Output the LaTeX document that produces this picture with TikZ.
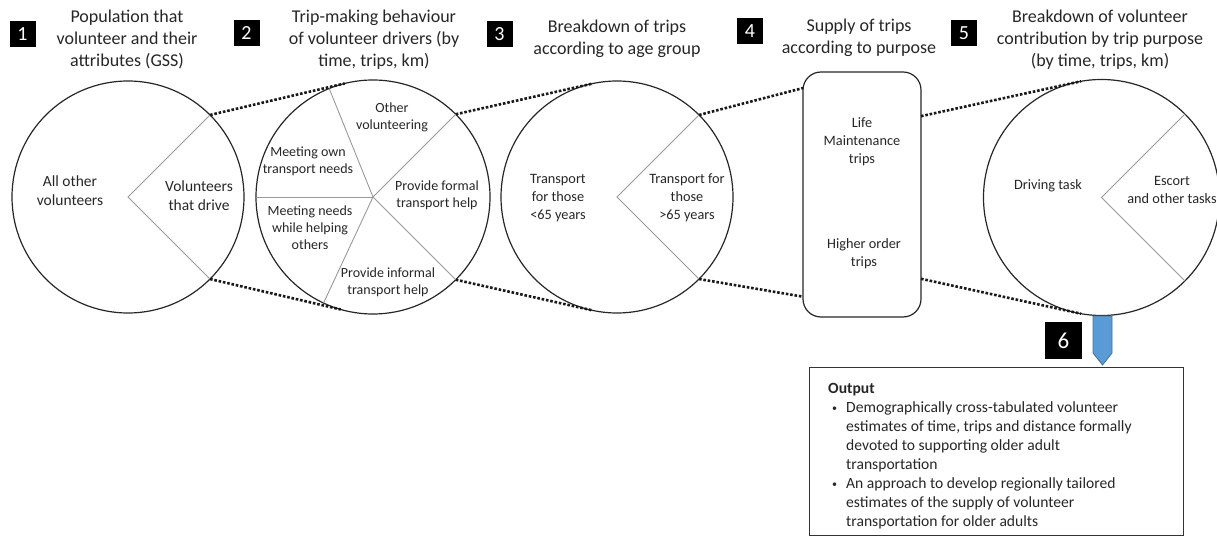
\documentclass[tikz,border=0pt]{standalone}
\usepackage{fontspec}
\setmainfont{Carlito}
\usetikzlibrary{calc}

\definecolor{arrowblue}{HTML}{5B9BD5}
\definecolor{arrowedge}{HTML}{41719C}
\newcommand{\outbullet}{\makebox[18pt][l]{\hspace{4pt}\raisebox{1pt}{\fontsize{10}{10}\selectfont\textbullet}}}

\begin{document}
\begin{tikzpicture}[x=1pt,y=-1pt,
  ring/.style={circle, draw=black!85, line width=1.2pt, inner sep=0pt, outer sep=0pt, minimum size=232pt},
  supbox/.style={draw=black!85, line width=1.2pt, rounded corners=18pt, outer sep=0pt, minimum width=118pt, minimum height=245pt},
  cut/.style={draw=black!40, line width=0.9pt},
  zoomline/.style={draw=black!90, line width=2.6pt, dash pattern=on 2.6pt off 1.8pt},
  numbox/.style={fill=black, text=white, inner sep=0pt, minimum size=26pt, font=\fontsize{20}{24}\selectfont},
  title/.style={align=center, text=black!85, font=\fontsize{18}{22}\selectfont},
  biglbl/.style={align=center, text=black!85, font=\fontsize{15.5}{19}\selectfont},
  lbl/.style={align=center, text=black!85, font=\fontsize{14.3}{18}\selectfont},
  smlbl/.style={align=center, text=black!85, font=\fontsize{14}{17}\selectfont},
  outbox/.style={draw=black!80, line width=1.2pt, minimum width=374pt, minimum height=168pt},
  outtext/.style={align=left, inner sep=0pt, text=black!85, font=\fontsize{15.6}{19}\selectfont}]
  \useasboundingbox (0,0) rectangle (1217,537);

  % titles and their numbers
  \node[title] (t1) at (127,40) {Population that\\volunteer and their\\attributes (GSS)};
  \node[title] (t2) at (374,40) {Trip-making behaviour\\of volunteer drivers (by\\time, trips, km)};
  \node[title] (t3) at (617,39) {Breakdown of trips\\according to age group};
  \node[title] (t4) at (859,38) {Supply of trips\\according to purpose};
  \node[title] (t5) at (1100,40) {Breakdown of volunteer\\contribution by trip purpose\\(by time, trips, km)};
  \node[numbox] (n1) at (22.5,34) {1};
  \node[numbox] (n2) at (246.5,33.5) {2};
  \node[numbox] (n3) at (499.5,34) {3};
  \node[numbox] (n4) at (750,31.5) {4};
  \node[numbox] (n5) at (964,33) {5};
  \node[numbox, minimum size=37pt, font=\fontsize{23}{26}\selectfont] (n6) at (1063.5,340.5) {6};

  % the five stages
  \node[ring] (pop) at (128,197) {};
  \node[ring, minimum size=234pt] (trip) at (373,197) {};
  \node[ring] (age) at (617,197) {};
  \node[supbox] (sup) at (862,194.5) {};
  \node[ring, minimum size=236pt] (task) at (1101.5,197.5) {};

  \draw[cut] (pop.45) -- (pop.center) -- (pop.-45);
  \foreach \a in {45,112,180,245,315}
    \draw[cut] (trip.center) -- (trip.\a);
  \draw[cut] (age.45) -- (age.center) -- (age.-45);
  \draw[cut] (task.45) -- (task.center) -- (task.-45);

  % zoom lines
  \draw[zoomline] (pop.45) -- (trip.104);
  \draw[zoomline] (pop.-45) -- (trip.-106);
  \draw[zoomline] (trip.45) -- (age.102);
  \draw[zoomline] (trip.-45) -- (age.-102);
  \draw[zoomline] (age.45) -- (sup.119);
  \draw[zoomline] (age.-45) -- (sup.-120);
  \draw[zoomline] (sup.53) -- (task.100);
  \draw[zoomline] (sup.-55) -- (task.-100);

  % slice labels
  \node[biglbl] (others) at (70,191) {All other\\volunteers};
  \node[biglbl] (drivers) at (199,196) {Volunteers\\that drive};
  \node[smlbl] (othervol) at (392,117) {Other\\volunteering};
  \node[smlbl] (ownneeds) at (308,161) {Meeting own\\transport needs};
  \node[smlbl] (formal) at (437,195) {Provide formal\\transport help};
  \node[smlbl] (helping) at (310,228) {Meeting needs\\while helping\\others};
  \node[smlbl] (informal) at (388,282) {Provide informal\\transport help};
  \node[lbl] (young) at (558,198) {Transport\\for those\\<65 years};
  \node[lbl] (old) at (687,198) {Transport for\\those\\>65 years};
  \node[lbl] (life) at (862,142) {Life\\Maintenance\\trips};
  \node[lbl] (higher) at (864,254) {Higher order\\trips};
  \node[lbl] (driving) at (1048,186) {Driving task};
  \node[lbl] (escort) at (1172,190) {Escort\\and other tasks};

  % output
  \draw[arrowedge, fill=arrowblue, line width=0.8pt] (1093,316) -- (1112,316) -- (1112,353) -- (1102.5,365) -- (1093,353) -- cycle;
  \node[outbox, anchor=north west] (out) at (809,367) {};
  \node[outtext, anchor=north west] (outtxt) at ($(out.north west)+(19,16)$) {%
    {\bfseries Output}\\
    \outbullet Demographically cross-tabulated volunteer\\
    \hspace*{18pt}estimates of time, trips and distance formally\\
    \hspace*{18pt}devoted to supporting older adult\\
    \hspace*{18pt}transportation\\
    \outbullet An approach to develop regionally tailored\\
    \hspace*{18pt}estimates of the supply of volunteer\\
    \hspace*{18pt}transportation for older adults};
\end{tikzpicture}
\end{document}
